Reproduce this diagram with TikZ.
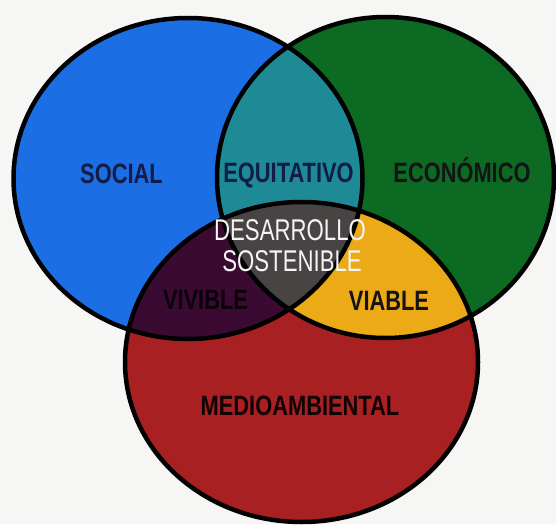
\documentclass[tikz,border=0pt]{standalone}
\usepackage{fontspec}
\newfontfamily\labfont[FakeStretch=0.78]{Liberation Sans}
\newfontfamily\midfont[FakeStretch=0.74]{Liberation Sans}
\definecolor{cblue}{RGB}{28,110,228}
\definecolor{cgreen}{RGB}{12,106,34}
\definecolor{cred}{RGB}{168,32,34}
\definecolor{cteal}{RGB}{30,138,150}
\definecolor{cpurple}{RGB}{58,10,50}
\definecolor{cyellow}{RGB}{236,170,22}
\definecolor{cgray}{RGB}{72,68,68}
\definecolor{cbg}{RGB}{246,246,244}
\definecolor{cnavy}{RGB}{18,28,70}
\definecolor{cdark}{RGB}{20,20,24}
\tikzset{
  lab/.style={inner sep=0pt, anchor=base, font=\labfont\bfseries\fontsize{28}{30}\selectfont},
  midlab/.style={inner sep=0pt, anchor=base, text=white!92!gray, font=\midfont\fontsize{30}{32}\selectfont},
  ring/.style={draw=black, line width=4.5pt}
}
\def\blueE{(188,178.5) ellipse [x radius=174.5pt, y radius=160.5pt]}
\def\greenE{(385.5,177.5) ellipse [x radius=168.5pt, y radius=160.5pt]}
\def\redE{(301.5,362) ellipse [x radius=176.5pt, y radius=160pt]}
\begin{document}
\begin{tikzpicture}[x=1pt,y=-1pt]
\useasboundingbox (0,0) rectangle (556,524);
\fill[cbg] (0,0) rectangle (556,524);
% base circles
\fill[cblue] \blueE;
\fill[cgreen] \greenE;
\fill[cred] \redE;
% pairwise overlaps
\begin{scope}
  \clip \blueE;
  \fill[cteal] \greenE;
  \fill[cpurple] \redE;
\end{scope}
\begin{scope}
  \clip \greenE;
  \fill[cyellow] \redE;
\end{scope}
\begin{scope}
  \clip \blueE;
  \clip \greenE;
  \fill[cgray] \redE;
\end{scope}
% outlines
\draw[ring] \blueE;
\draw[ring] \greenE;
\draw[ring] \redE;
% labels
\node[lab, text=cnavy] (social) at (121.5,183) {SOCIAL};
\node[lab, text=cnavy] (equit) at (288.5,182) {EQUITATIVO};
\node[lab, text=cdark] (econ) at (462,182) {ECONÓMICO};
\node[midlab] (desa) at (290,240) {DESARROLLO};
\node[midlab] (sost) at (292,271) {SOSTENIBLE};
\node[lab, text=black!85!cpurple] (vivi) at (205.5,309) {VIVIBLE};
\node[lab, text=cdark] (viab) at (389,310) {VIABLE};
\node[lab, text=black!90!cred] (medio) at (300,415) {MEDIOAMBIENTAL};
\end{tikzpicture}
\end{document}
